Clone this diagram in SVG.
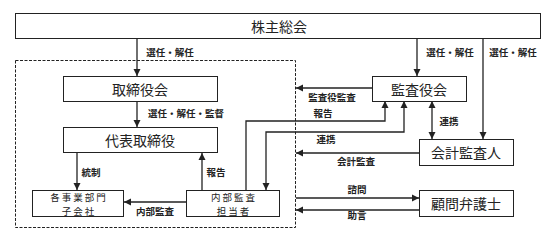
<svg xmlns="http://www.w3.org/2000/svg" width="544" height="242" viewBox="0 0 544 242">
<style>
.box{fill:#fff;stroke:#222;stroke-width:1}
.big{font-family:"Noto Sans CJK JP","Noto Sans CJK SC",sans-serif;font-size:14px;fill:#222;text-anchor:middle;dominant-baseline:central}
.mid{font-family:"Noto Sans CJK JP","Noto Sans CJK SC",sans-serif;font-size:9.5px;fill:#222;text-anchor:middle;dominant-baseline:central;letter-spacing:2px}
.lbl{font-family:"Noto Sans CJK JP","Noto Sans CJK SC",sans-serif;font-size:9.5px;font-weight:bold;fill:#222;text-anchor:middle;dominant-baseline:central}
.ln{fill:none;stroke:#222;stroke-width:1.3}
</style>
<defs>
<marker id="ah" markerWidth="8" markerHeight="8" refX="7" refY="4" orient="auto-start-reverse" markerUnits="userSpaceOnUse">
<path d="M0,0.5 L7,4 L0,7.5 Z" fill="#222"/>
</marker>
</defs>
<rect x="0" y="0" width="544" height="242" fill="#fff"/>
<rect x="15.5" y="60.5" width="280" height="167" fill="none" stroke="#222" stroke-width="1" stroke-dasharray="3,1.5"/>
<g id="connectors">
<line class="ln" x1="137" y1="38" x2="137" y2="76" marker-end="url(#ah)"/>
<line class="ln" x1="417" y1="38" x2="417" y2="76" marker-end="url(#ah)"/>
<line class="ln" x1="483" y1="38" x2="483" y2="139" marker-end="url(#ah)"/>
<line class="ln" x1="137" y1="101" x2="137" y2="127" marker-end="url(#ah)"/>
<line class="ln" x1="77" y1="153" x2="77" y2="190" marker-end="url(#ah)"/>
<line class="ln" x1="202" y1="190" x2="202" y2="153" marker-end="url(#ah)"/>
<line class="ln" x1="186" y1="202" x2="124" y2="202" marker-end="url(#ah)"/>
<polyline class="ln" points="246,190 246,121 385,121 385,101" marker-end="url(#ah)"/>
<polyline class="ln" points="404,101 404,132 266,132 266,190" marker-start="url(#ah)" marker-end="url(#ah)"/>
<line class="ln" x1="372" y1="88" x2="296" y2="88" marker-end="url(#ah)"/>
<line class="ln" x1="432" y1="101" x2="432" y2="139" marker-start="url(#ah)" marker-end="url(#ah)"/>
<line class="ln" x1="419" y1="153" x2="296" y2="153" marker-end="url(#ah)"/>
<line class="ln" x1="296" y1="198" x2="419" y2="198" marker-end="url(#ah)"/>
<line class="ln" x1="419" y1="210" x2="296" y2="210" marker-end="url(#ah)"/>
<text class="lbl" x="170" y="52">選任・解任</text>
<text class="lbl" x="450" y="52">選任・解任</text>
<text class="lbl" x="513" y="52">選任・解任</text>
<text class="lbl" x="186" y="113">選任・解任・監督</text>
<text class="lbl" x="91" y="172">統制</text>
<text class="lbl" x="216" y="172">報告</text>
<text class="lbl" x="155" y="211">内部監査</text>
<text class="lbl" x="332" y="97">監査役監査</text>
<text class="lbl" x="323" y="113">報告</text>
<text class="lbl" x="326" y="139">連携</text>
<text class="lbl" x="449" y="121">連携</text>
<text class="lbl" x="356" y="161">会計監査</text>
<text class="lbl" x="357" y="189">諮問</text>
<text class="lbl" x="357" y="215">助言</text>
</g>
<g id="shareholders"><rect class="box" x="15.5" y="13.5" width="525" height="25"/><text class="big" x="279" y="26">株主総会</text></g>
<g id="board"><rect class="box" x="63.5" y="76.5" width="154" height="25"/><text class="big" x="140" y="89">取締役会</text></g>
<g id="ceo"><rect class="box" x="63.5" y="127.5" width="154" height="25"/><text class="big" x="140" y="140">代表取締役</text></g>
<g id="divisions"><rect class="box" x="32.5" y="190.5" width="91" height="26"/><text class="mid" x="79" y="197">各事業部門</text><text class="mid" x="79" y="211">子会社</text></g>
<g id="internal-audit"><rect class="box" x="186.5" y="190.5" width="93" height="26"/><text class="mid" x="234" y="197">内部監査</text><text class="mid" x="234" y="211">担当者</text></g>
<g id="auditors"><rect class="box" x="372.5" y="76.5" width="94" height="25"/><text class="big" x="419" y="89">監査役会</text></g>
<g id="accounting-auditor"><rect class="box" x="419.5" y="139.5" width="94" height="26"/><text class="big" x="466" y="152">会計監査人</text></g>
<g id="lawyer"><rect class="box" x="419.5" y="190.5" width="94" height="26"/><text class="big" x="466" y="203">顧問弁護士</text></g>
</svg>
